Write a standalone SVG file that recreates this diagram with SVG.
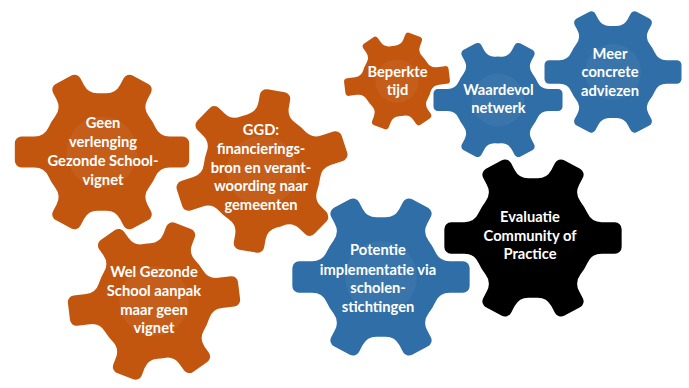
<svg xmlns="http://www.w3.org/2000/svg" width="689" height="388" viewBox="0 0 689 388">
<defs>
<path id="gear" d="M61.82,-28.33 A16,16 0 0 0 76.36,-19 L91,-19 A9,9 0 0 1 100,-10 L100,10 A9,9 0 0 1 91,19 L76.36,19 A16,16 0 0 0 61.82,28.33 A68,68 0 0 1 54.04,41.28 A16,16 0 0 0 52.63,58.50 L56.68,66.13 A9,9 0 0 1 52.96,78.30 L35.30,87.69 A9,9 0 0 1 23.13,83.97 L19.07,76.34 A16,16 0 0 0 4.01,67.88 A68,68 0 0 1 -4.01,67.88 A16,16 0 0 0 -19.07,76.34 L-23.13,83.97 A9,9 0 0 1 -35.30,87.69 L-52.96,78.30 A9,9 0 0 1 -56.68,66.13 L-52.63,58.50 A16,16 0 0 0 -54.04,41.28 A68,68 0 0 1 -61.82,28.33 A16,16 0 0 0 -76.36,19 L-91,19 A9,9 0 0 1 -100,10 L-100,-10 A9,9 0 0 1 -91,-19 L-76.36,-19 A16,16 0 0 0 -61.82,-28.33 A68,68 0 0 1 -54.04,-41.28 A16,16 0 0 0 -52.63,-58.50 L-56.68,-66.13 A9,9 0 0 1 -52.96,-78.30 L-35.30,-87.69 A9,9 0 0 1 -23.13,-83.97 L-19.07,-76.34 A16,16 0 0 0 -4.01,-67.88 A68,68 0 0 1 4.01,-67.88 A16,16 0 0 0 19.07,-76.34 L23.13,-83.97 A9,9 0 0 1 35.30,-87.69 L52.96,-78.30 A9,9 0 0 1 56.68,-66.13 L52.63,-58.50 A16,16 0 0 0 54.04,-41.28 A68,68 0 0 1 61.82,-28.33 Z"/>
<circle id="hub" r="40"/>
</defs>
<style>
.o{fill:#C2560F}
.b{fill:#2F6EA6}
.k{fill:#000000}
.body{stroke:#ffffff;stroke-linejoin:round}
.hub{fill:#ffffff;fill-opacity:0.05}
text{font-family:Lato,"Liberation Sans",sans-serif;font-weight:bold;font-size:14.7px;fill:#ffffff;text-anchor:middle}
</style>
<rect width="689" height="388" fill="#ffffff"/>

<g id="gear-geen" class="o">
<use class="body" href="#gear" transform="translate(102 152) scale(0.885)" stroke-width="3"/>
<use class="hub" href="#hub" transform="translate(102 152) scale(0.885)"/>
<text x="103" y="128">Geen</text>
<text x="103" y="147">verlenging</text>
<text x="103" y="166">Gezonde School-</text>
<text x="103" y="185">vignet</text>
</g>

<g id="gear-ggd" class="o">
<use class="body" href="#gear" transform="translate(262 171) rotate(-18) scale(0.88)" stroke-width="3"/>
<use class="hub" href="#hub" transform="translate(262 171) scale(0.88)"/>
<text x="261" y="135">GGD:</text>
<text x="261" y="154">financierings-</text>
<text x="261" y="172.5">bron en verant-</text>
<text x="261" y="191">woording naar</text>
<text x="261" y="210">gemeenten</text>
</g>

<g id="gear-wel" class="o">
<use class="body" href="#gear" transform="translate(154 301) rotate(-7) scale(0.87)" stroke-width="3"/>
<use class="hub" href="#hub" transform="translate(154 301) scale(0.87)"/>
<text x="154" y="277">Wel Gezonde</text>
<text x="154" y="296">School aanpak</text>
<text x="154" y="315">maar geen</text>
<text x="154" y="333">vignet</text>
</g>

<g id="gear-potentie" class="b">
<use class="body" href="#gear" transform="translate(381 277) scale(0.9)" stroke-width="3"/>
<use class="hub" href="#hub" transform="translate(381 277) scale(0.9)"/>
<text x="378" y="255">Potentie</text>
<text x="378" y="275">implementatie via</text>
<text x="378" y="293">scholen-</text>
<text x="378" y="312">stichtingen</text>
</g>

<g id="gear-evaluatie" class="k">
<use class="body" href="#gear" transform="translate(533 238) scale(0.9)" stroke-width="3"/>
<text x="530" y="222">Evaluatie</text>
<text x="530" y="241">Community of</text>
<text x="530" y="259">Practice</text>
</g>

<g id="gear-beperkte" class="o">
<use class="body" href="#gear" transform="translate(397 81) rotate(-7) scale(0.54)" stroke-width="5"/>
<use class="hub" href="#hub" transform="translate(397 81) scale(0.54)"/>
<text x="397.5" y="77">Beperkte</text>
<text x="397.5" y="95">tijd</text>
</g>

<g id="gear-waardevol" class="b">
<use class="body" href="#gear" transform="translate(498 100) scale(0.66)" stroke-width="4.5"/>
<use class="hub" href="#hub" transform="translate(498 100) scale(0.66)"/>
<text x="498.5" y="95">Waardevol</text>
<text x="498.5" y="113">netwerk</text>
</g>

<g id="gear-meer" class="b">
<use class="body" href="#gear" transform="translate(613 72) scale(0.7)" stroke-width="4.3"/>
<use class="hub" href="#hub" transform="translate(613 72) scale(0.7)"/>
<text x="610" y="59">Meer</text>
<text x="610" y="77">concrete</text>
<text x="610" y="96">adviezen</text>
</g>
</svg>
